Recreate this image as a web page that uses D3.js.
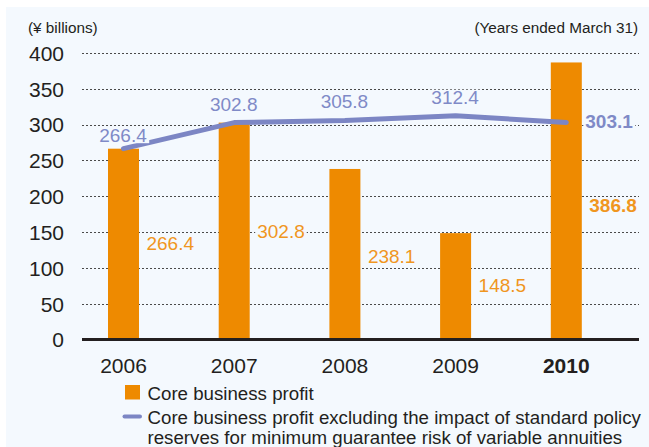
<!DOCTYPE html>
<html>
<head>
<meta charset="utf-8">
<script src="https://cdn.jsdelivr.net/npm/d3@7"></script>
<style>
  html, body { margin: 0; padding: 0; background: #ffffff; }
  svg { display: block; }
  text { font-family: "Liberation Sans", Arial, Helvetica, sans-serif; }
</style>
</head>
<body>
<svg id="chart" width="649" height="447"></svg>
<script>
// Fiscal years (ended March 31)
const years = ["2006", "2007", "2008", "2009", "2010"];
// Core business profit (¥ billions)
const coreProfit = [266.4, 302.8, 238.1, 148.5, 386.8];
// Core business profit excluding the impact of standard policy reserves (¥ billions)
const coreProfitExcl = [266.4, 302.8, 305.8, 312.4, 303.1];
// Y-axis ticks
const yTicks = [0, 50, 100, 150, 200, 250, 300, 350, 400];
const highlightYear = "2010";

// Where the bar value labels sit, expressed on the value axis
const profitLabelLevel = [125, 142, 107, 66.5, 178];

const W = 649, H = 447;
const svg = d3.select("#chart");

const C = {
  bg: "#f4f9fe",
  bar: "#ee8a00",
  barText: "#f0961f",
  line: "#7c86c4",
  lineText: "#7f8ac7",
  ink: "#231f20",
  grid: "#4a4a4a"
};

// panel background
svg.append("rect").attr("x", 6).attr("y", 7).attr("width", W - 6).attr("height", H - 7).attr("fill", C.bg);

const plotLeft = 82, plotRight = 639;
const y = d3.scaleLinear().domain([0, 400]).range([339.5, 53]);
const x = d3.scaleBand().domain(years).range([28.3, 661.5]).padding(0.72);
const cx = d => x(d) + x.bandwidth() / 2;

// dotted gridlines
svg.append("g").selectAll("line")
  .data(yTicks.filter(t => t > 0))
  .join("line")
  .attr("x1", plotLeft).attr("x2", plotRight)
  .attr("y1", d => Math.round(y(d)) + 0.5).attr("y2", d => Math.round(y(d)) + 0.5)
  .attr("stroke", C.grid).attr("stroke-width", 1).attr("stroke-dasharray", "2,2");

// y-axis labels
const yAxis = d3.axisLeft(y).tickValues(yTicks).tickSize(0).tickPadding(0);
const gy = svg.append("g").attr("transform", "translate(64,0)").call(yAxis);
gy.select(".domain").remove();
gy.selectAll("text").attr("font-size", 21).attr("fill", C.ink)
  .attr("font-family", "'Liberation Sans', Arial, sans-serif").attr("dy", "0.35em");

// bars
svg.append("g").selectAll("rect")
  .data(years)
  .join("rect")
  .attr("x", d => x(d))
  .attr("width", x.bandwidth())
  .attr("y", (d, i) => y(coreProfit[i]))
  .attr("height", (d, i) => y(0) - y(coreProfit[i]))
  .attr("fill", C.bar);

// baseline axis
const xAxis = d3.axisBottom(x).tickSize(0).tickPadding(0);
const gx = svg.append("g").attr("transform", `translate(0,${y(0)})`).call(xAxis);
gx.select(".domain").remove();
svg.append("line").attr("x1", plotLeft).attr("x2", plotRight)
  .attr("y1", y(0)).attr("y2", y(0)).attr("stroke", C.ink).attr("stroke-width", 2.8);
gx.selectAll("text")
  .attr("font-size", 21).attr("fill", C.ink)
  .attr("font-family", "'Liberation Sans', Arial, sans-serif")
  .attr("y", 33).attr("dy", 0)
  .attr("font-weight", d => d === highlightYear ? "bold" : "normal");

// line series
const line = d3.line().x((d, i) => cx(years[i])).y(d => y(d));
svg.append("path")
  .datum(coreProfitExcl)
  .attr("d", line)
  .attr("fill", "none").attr("stroke", C.line).attr("stroke-width", 5)
  .attr("stroke-linecap", "round").attr("stroke-linejoin", "round");

// value label with a knock-out background so gridlines break around it
function label(g, txt, px, py, anchor, color, bold) {
  const fs = 19;
  const t = g.append("text").text(txt).attr("x", px).attr("y", py)
    .attr("text-anchor", anchor).attr("font-size", fs).attr("fill", color)
    .attr("font-weight", bold ? "bold" : "normal");
  const b = t.node().getBBox();
  g.insert("rect", () => t.node())
    .attr("x", b.x - 2).attr("width", b.width + 4)
    .attr("y", py - fs * 0.74).attr("height", fs * 0.74 + 1)
    .attr("fill", C.bg);
}

const labels = svg.append("g");
// line labels: above each point, the latest to the right of its bar
years.forEach((yr, i) => {
  const v = coreProfitExcl[i];
  const hl = yr === highlightYear;
  if (hl) {
    label(labels, v.toFixed(1), x(yr) + x.bandwidth() + 3.5, y(v) + 6, "start", C.lineText, true);
  } else {
    const off = i === 0 ? 6.5 : 12;
    label(labels, v.toFixed(1), cx(yr) - 0.5, y(v) - off, "middle", C.lineText, false);
  }
});
// bar labels: to the right of each bar
years.forEach((yr, i) => {
  const v = coreProfit[i];
  label(labels, v.toFixed(1), x(yr) + x.bandwidth() + 7.5, y(profitLabelLevel[i]), "start", C.barText, yr === highlightYear);
});

// unit and period captions
svg.append("text").text("(¥ billions)").attr("x", 28).attr("y", 33)
  .attr("font-size", 15.3).attr("fill", C.ink);
svg.append("text").text("(Years ended March 31)").attr("x", 638).attr("y", 33)
  .attr("text-anchor", "end").attr("font-size", 15.3).attr("fill", C.ink);

// legend
const lg = svg.append("g");
lg.append("rect").attr("x", 125).attr("y", 385).attr("width", 15).attr("height", 14.5).attr("fill", C.bar);
lg.append("text").text("Core business profit").attr("x", 147.5).attr("y", 400)
  .attr("font-size", 18.7).attr("fill", C.ink);
lg.append("line").attr("x1", 124.5).attr("x2", 140).attr("y1", 416.5).attr("y2", 416.5)
  .attr("stroke", C.line).attr("stroke-width", 4).attr("stroke-linecap", "round");
const lt = lg.append("text").attr("x", 147.5).attr("y", 423.5).attr("font-size", 18.7).attr("fill", C.ink);
lt.append("tspan").attr("x", 147.5).text("Core business profit excluding the impact of standard policy");
lt.append("tspan").attr("x", 147.5).attr("dy", 20).text("reserves for minimum guarantee risk of variable annuities");
</script>
</body>
</html>
